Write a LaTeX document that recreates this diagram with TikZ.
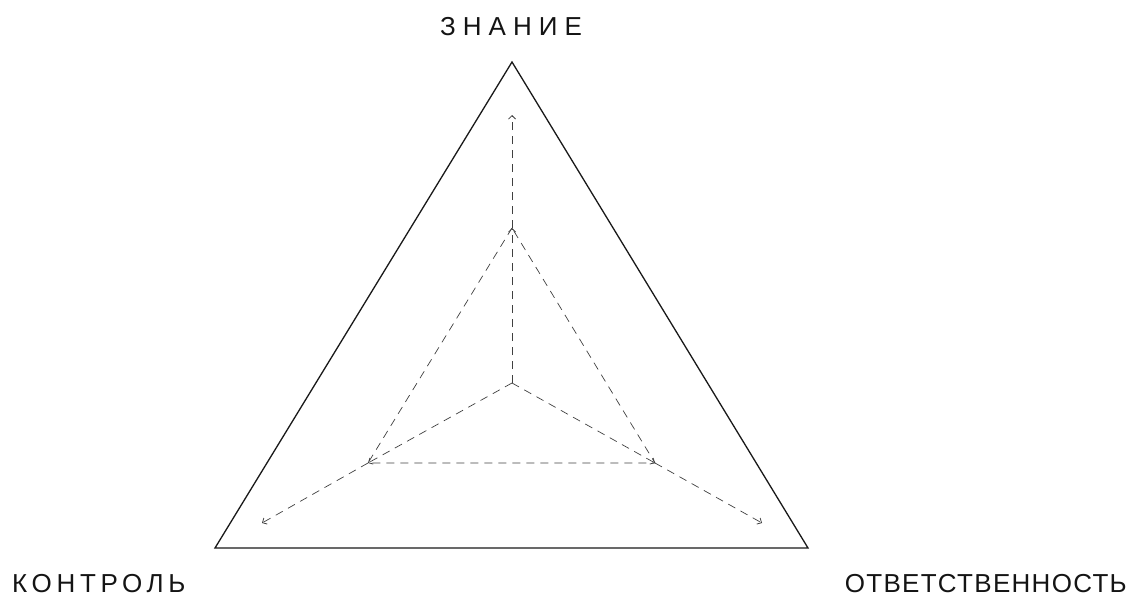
\documentclass[tikz,border=0pt]{standalone}
\usepackage{fontspec}
\setmainfont{Liberation Sans}
\usetikzlibrary{arrows.meta}
\begin{document}
\begin{tikzpicture}[x=1pt,y=-1pt,
  outer/.style={line width=1.3pt, line join=miter, draw=black!90},
  ray/.style={dash pattern=on 8pt off 6pt, line width=0.7pt, draw=black!75, -{Straight Barb[length=3.5pt,width=7pt,line width=0.8pt]}},
  inner/.style={dash pattern=on 8pt off 6pt, line width=0.7pt, draw=black!75},
  lbl/.style={font=\fontsize{26}{30}\selectfont, text=black!92, inner sep=0pt}]
\useasboundingbox (0,0) rectangle (1130,597);
\coordinate (A) at (512,62);
\coordinate (B) at (215,548);
\coordinate (C) at (808,548);
\coordinate (O) at (512,383);
\coordinate (ia) at (512,228);
\coordinate (ib) at (368,463);
\coordinate (ic) at (655,463);
\coordinate (oa) at (512,115);
\coordinate (ob) at (262,523);
\coordinate (oc) at (762,523);
\draw[outer] (A) -- (B) -- (C) -- cycle;
\draw[inner] (ia) -- (ib) -- (ic) -- cycle;
\draw[ray] (O) -- (ia);
\draw[ray] (O) -- (ib);
\draw[ray] (O) -- (ic);
\draw[ray] (ia) -- (oa);
\draw[ray] (ib) -- (ob);
\draw[ray] (ic) -- (oc);
\node[lbl, anchor=base west] (tz) at (440,35) {\addfontfeature{LetterSpace=27}ЗНАНИЕ};
\node[lbl, anchor=base west] (tk) at (12,592) {\addfontfeature{LetterSpace=18}КОНТРОЛЬ};
\node[lbl, anchor=base east] (to) at (1127,592) {\addfontfeature{LetterSpace=5}ОТВЕТСТВЕННОСТЬ};
\end{tikzpicture}
\end{document}
